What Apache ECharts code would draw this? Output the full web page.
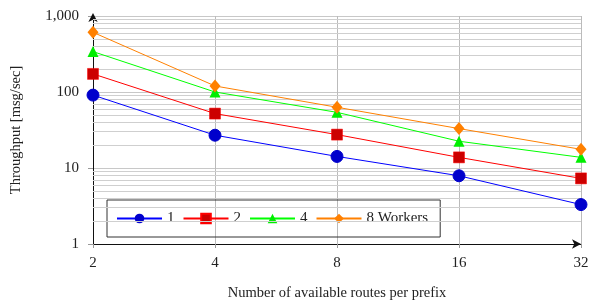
<!DOCTYPE html>
<html>
<head>
<meta charset="utf-8">
<script src="https://cdn.jsdelivr.net/npm/echarts@6/dist/echarts.min.js"></script>
<style>
  html, body { margin: 0; padding: 0; background: #fff; }
  #chart { width: 590px; height: 300px; }
</style>
</head>
<body>
<div id="chart"></div>
<script>
// routes per prefix (x) and throughput per worker count
var routes = [2, 4, 8, 16, 32]
var workers1 = [91, 27, 14.2, 7.9, 3.3]
var workers2 = [173, 52, 27.5, 13.8, 7.3]
var workers4 = [340, 100, 54, 22.5, 13.8]
var workers8 = [610, 120, 63, 33, 17.6]

// minor log gridlines (2..9 per decade)
var minorTicks = []
;[1, 10, 100].forEach(function (d) {
  for (var k = 2; k <= 9; k++) minorTicks.push(k * d)
})

var font = 'Liberation Serif'
var chart = echarts.init(document.getElementById('chart'))

function pairs(vals) {
  return vals.map(function (v, i) { return [routes[i], v] })
}

chart.setOption({
  animation: false,
  textStyle: { fontFamily: font },
  grid: { left: 93, right: 9, top: 16, bottom: 56, outerBoundsMode: 'none' },
  legend: {
    left: 107,
    top: 200,
    itemWidth: 45,
    itemHeight: 12,
    itemGap: 8,
    padding: [11, 12, 11, 9],
    borderColor: '#333',
    borderWidth: 1,
    textStyle: { fontFamily: font, fontSize: 15, color: '#222' },
    data: ['1', '2', '4', '8 Workers']
  },
  xAxis: {
    type: 'log',
    logBase: 2,
    min: 2,
    max: 32,
    z: 3,
    name: 'Number of available routes per prefix',
    nameLocation: 'middle',
    nameGap: 42,
    nameTextStyle: { fontFamily: font, fontSize: 14.5, color: '#222' },
    axisLine: { lineStyle: { color: '#111', width: 1 }, symbol: ['none', 'arrow'], symbolSize: [7, 9] },
    axisTick: { show: true, length: 4, lineStyle: { color: '#999' } },
    axisLabel: { fontFamily: font, fontSize: 15, color: '#222', margin: 12 },
    splitLine: { show: true, showMinLine: false, lineStyle: { color: '#bbb', width: 1 } }
  },
  yAxis: {
    type: 'log',
    min: 1,
    max: 1000,
    z: 3,
    name: 'Throughput [msg/sec]',
    nameLocation: 'middle',
    nameGap: 69,
    nameTextStyle: { fontFamily: font, fontSize: 14.5, color: '#222' },
    axisLine: { show: true, lineStyle: { color: '#111', width: 1 }, symbol: ['none', 'arrow'], symbolSize: [7, 9], symbolOffset: [0, 3] },
    axisTick: { show: true, length: 5, lineStyle: { color: '#999' } },
    axisLabel: {
      fontFamily: font, fontSize: 15, color: '#222', margin: 14,
      formatter: function (v) { return v >= 1000 ? '1,000' : String(v) }
    },
    splitLine: { show: true, showMinLine: false, lineStyle: { color: '#c8c8c8', width: 1 } }
  },
  series: [
    {
      name: '1', type: 'line', data: pairs(workers1),
      symbol: 'circle', symbolSize: 12,
      lineStyle: { color: '#0000ff', width: 1 },
      itemStyle: { color: '#0000cc', borderColor: '#0000cc' },
      markLine: {
        silent: true, symbol: 'none', label: { show: false },
        lineStyle: { color: '#cfcfcf', width: 1, type: 'solid' },
        data: minorTicks.map(function (v) { return { yAxis: v } })
      },
      z: 5
    },
    {
      name: '2', type: 'line', data: pairs(workers2),
      symbol: 'rect', symbolSize: 11,
      lineStyle: { color: '#ff0000', width: 1 },
      itemStyle: { color: '#cc0000', borderColor: '#ff0000', borderWidth: 0.5 },
      z: 5
    },
    {
      name: '4', type: 'line', data: pairs(workers4),
      symbol: 'triangle', symbolSize: 11,
      lineStyle: { color: '#00ff00', width: 1 },
      itemStyle: { color: '#00ee00' },
      z: 5
    },
    {
      name: '8 Workers', type: 'line', data: pairs(workers8),
      symbol: 'diamond', symbolSize: [11, 13],
      lineStyle: { color: '#ff8000', width: 1 },
      itemStyle: { color: '#ff8000' },
      z: 5
    }
  ]
})
</script>
</body>
</html>
